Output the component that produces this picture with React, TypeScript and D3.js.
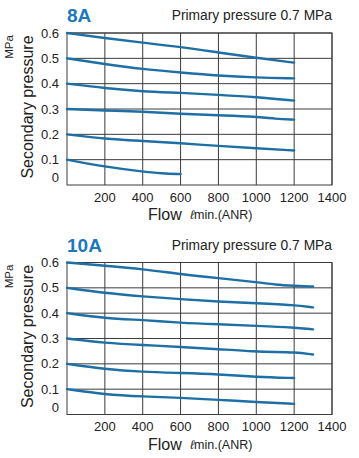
import React from "react";
import * as d3 from "d3";

// Flow values (ℓ/min ANR) at which each curve is sampled
const flowTicks = [200, 400, 600, 800, 1000, 1200, 1400];
const pressureTicks = [0, 0.1, 0.2, 0.3, 0.4, 0.5, 0.6];

// 8A regulator: secondary pressure curves [flow, MPa]
const curves8A: [number, number][][] = [
  [[0, 0.6], [200, 0.58], [400, 0.562], [600, 0.545], [800, 0.523], [1000, 0.502], [1200, 0.483]],
  [[0, 0.5], [200, 0.477], [400, 0.457], [600, 0.444], [800, 0.431], [1000, 0.424], [1200, 0.421]],
  [[0, 0.4], [200, 0.382], [400, 0.369], [600, 0.364], [800, 0.356], [1000, 0.347], [1200, 0.333]],
  [[0, 0.3], [200, 0.294], [400, 0.29], [600, 0.281], [800, 0.275], [1000, 0.27], [1100, 0.261], [1200, 0.258]],
  [[0, 0.2], [200, 0.182], [400, 0.174], [600, 0.165], [800, 0.154], [1000, 0.145], [1200, 0.136]],
  [[0, 0.1], [200, 0.072], [400, 0.053], [500, 0.046], [600, 0.043]],
];

// 10A regulator: secondary pressure curves [flow, MPa]
const curves10A: [number, number][][] = [
  [[0, 0.6], [200, 0.587], [400, 0.574], [600, 0.554], [800, 0.538], [1000, 0.523], [1100, 0.512], [1200, 0.508], [1300, 0.505]],
  [[0, 0.5], [200, 0.479], [400, 0.466], [600, 0.455], [800, 0.446], [1000, 0.439], [1200, 0.432], [1300, 0.423]],
  [[0, 0.4], [200, 0.38], [400, 0.373], [600, 0.362], [800, 0.356], [1000, 0.35], [1200, 0.344], [1300, 0.336]],
  [[0, 0.3], [200, 0.282], [400, 0.274], [600, 0.267], [800, 0.258], [1000, 0.248], [1100, 0.247], [1200, 0.246], [1300, 0.237]],
  [[0, 0.2], [200, 0.179], [400, 0.168], [600, 0.164], [800, 0.159], [1000, 0.148], [1200, 0.144]],
  [[0, 0.1], [200, 0.079], [400, 0.071], [600, 0.066], [800, 0.058], [1000, 0.049], [1200, 0.042]],
];

const panels = [
  { title: "8A", subtitle: "Primary pressure 0.7 MPa", curves: curves8A },
  { title: "10A", subtitle: "Primary pressure 0.7 MPa", curves: curves10A },
];

const W = 359;
const H = 458;
const FONT = "Liberation Sans, Arial, sans-serif";
const BLUE = "#1d6fa5";
const TITLE_BLUE = "#1b78bd";
const GRID = "#3c3c3c";

function Panel({ top, title, subtitle, curves }: { top: number; title: string; subtitle: string; curves: [number, number][][] }) {
  const left = 67;
  const right = 332;
  const plotTop = top + 33;
  const plotBottom = top + 185;
  const x = d3.scaleLinear().domain([0, 1400]).range([left, right]);
  const y = d3.scaleLinear().domain([0, 0.6]).range([plotBottom, plotTop]);
  const line = d3
    .line<[number, number]>()
    .x((d) => x(d[0]))
    .y((d) => y(d[1]))
    .curve(d3.curveBasis);

  return (
    <g fontFamily={FONT}>
      <text x={left} y={top + 22} fontSize={19} fontWeight="bold" fill={TITLE_BLUE}>
        {title}
      </text>
      <text x={right} y={top + 20} fontSize={13.8} fill="#222" textAnchor="end">
        {subtitle}
      </text>

      {/* grid */}
      {pressureTicks.slice(1).map((p) => (
        <line key={"h" + p} x1={left} x2={right} y1={y(p)} y2={y(p)} stroke={GRID} strokeWidth={1} />
      ))}
      {flowTicks.map((f) => (
        <line key={"v" + f} x1={x(f)} x2={x(f)} y1={plotTop} y2={plotBottom} stroke={GRID} strokeWidth={1} />
      ))}
      <rect x={left} y={plotTop} width={right - left} height={plotBottom - plotTop} fill="none" stroke={GRID} strokeWidth={1} />

      {/* curves */}
      {curves.map((c, i) => (
        <path key={i} d={line(c) || ""} fill="none" stroke={BLUE} strokeWidth={2.4} strokeLinecap="round" />
      ))}

      {/* y tick labels */}
      {pressureTicks.map((p) => (
        <text
          key={"yl" + p}
          x={59}
          y={p === 0 ? y(p) - 3 : y(p) + 4.5}
          fontSize={13}
          fill="#222"
          textAnchor="end"
        >
          {p === 0 ? "0" : p.toFixed(1)}
        </text>
      ))}

      {/* x tick labels */}
      {flowTicks.map((f) => (
        <text key={"xl" + f} x={x(f)} y={plotBottom + 16.5} fontSize={13} fill="#222" textAnchor="middle">
          {f}
        </text>
      ))}

      {/* axis titles */}
      <text x={148} y={plotBottom + 35} fontSize={16} fill="#222">
        Flow
      </text>
      <text x={190} y={plotBottom + 34} fontSize={12.5} fill="#222">
        <tspan fontStyle="italic">ℓ</tspan>
        <tspan>min.(ANR)</tspan>
      </text>
      <text
        transform={`translate(33,${(plotTop + plotBottom) / 2 - 2}) rotate(-90)`}
        fontSize={16}
        fill="#222"
        textAnchor="middle"
      >
        Secondary pressure
      </text>
      <text transform={`translate(13,${top + 47}) rotate(-90)`} fontSize={11.5} fill="#222" textAnchor="middle">
        MPa
      </text>
    </g>
  );
}

export default function App() {
  return (
    <svg width={W} height={H} viewBox={`0 0 ${W} ${H}`} style={{ display: "block", position: "absolute", left: 0, top: 0, background: "#fff" }}>
      <rect width={W} height={H} fill="#fff" />
      {panels.map((p, i) => (
        <Panel key={p.title} top={i * 229.5} title={p.title} subtitle={p.subtitle} curves={p.curves} />
      ))}
    </svg>
  );
}
